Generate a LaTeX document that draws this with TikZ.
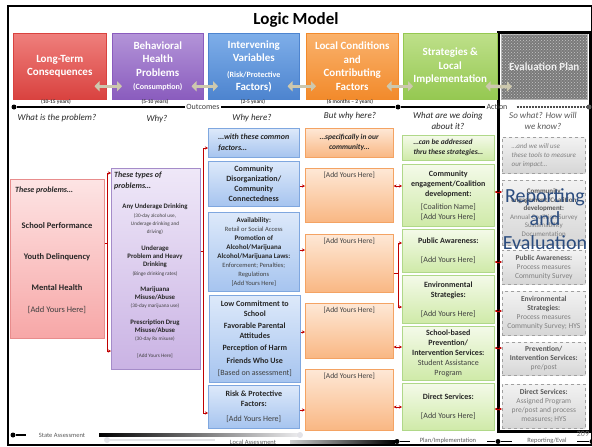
\documentclass[tikz,border=0pt]{standalone}
\usepackage{fontspec}
\setmainfont{Carlito}
\usepackage{tikz}
\usetikzlibrary{arrows.meta, positioning, calc, patterns}

\definecolor{txt}{HTML}{262626}
\definecolor{txtr}{HTML}{404040}
\definecolor{evb}{HTML}{595959}
\definecolor{evr}{HTML}{808080}
\definecolor{dred}{HTML}{C00000}
\definecolor{beige}{HTML}{CDC8AE}
\definecolor{repblue}{HTML}{2B4C7E}
\definecolor{redT}{HTML}{EF7F7C}
\definecolor{redB}{HTML}{D9423F}
\definecolor{purT}{HTML}{B394D8}
\definecolor{purB}{HTML}{8A5CBE}
\definecolor{bluT}{HTML}{7EAEE9}
\definecolor{bluB}{HTML}{4D84CF}
\definecolor{oraT}{HTML}{FAB26C}
\definecolor{oraB}{HTML}{F28A2B}
\definecolor{greT}{HTML}{BEE08A}
\definecolor{greB}{HTML}{95C851}
\definecolor{evhd}{HTML}{7A7A7A}
\definecolor{pkT}{HTML}{FDE4E4}
\definecolor{pkB}{HTML}{F7A7A7}
\definecolor{pkD}{HTML}{E88C8C}
\definecolor{puT}{HTML}{EFE8F8}
\definecolor{puB}{HTML}{CAB3E4}
\definecolor{puD}{HTML}{A58CC9}
\definecolor{blT}{HTML}{DDE9FA}
\definecolor{blB}{HTML}{A6C4EF}
\definecolor{blD}{HTML}{7FA7DF}
\definecolor{orT}{HTML}{FEE8D6}
\definecolor{orB}{HTML}{F9B783}
\definecolor{orD}{HTML}{F4A363}
\definecolor{grT}{HTML}{F4FAE9}
\definecolor{grB}{HTML}{CFEAA8}
\definecolor{grD}{HTML}{B0D889}
\definecolor{evT}{HTML}{F2F2F2}
\definecolor{evB}{HTML}{D6D6D6}
\definecolor{evD}{HTML}{A0A0A0}

\newcommand{\fsz}[2]{\fontsize{#1}{#2}\selectfont}
\newcommand{\rg}[1]{{\mdseries\color{txtr}#1}}
\newcommand{\ev}[1]{{\mdseries\color{evr}#1}}
\newcommand{\pnote}[1]{{\fsz{5.2}{7}\mdseries\color{txtr}#1}}
\newcommand{\bnote}[1]{{\fsz{6.5}{9}\mdseries\color{txtr}#1}}
\newcommand{\ayh}{\rg{[Add Yours Here]}}

\begin{document}
\begin{tikzpicture}[x=1pt, y=-1pt,
  every node/.style={text=txt, inner sep=1pt},
  bx/.style={draw, line width=0.6pt, anchor=north west, align=center, inner sep=2pt},
  hd/.style={bx, line width=0.5pt, text=white, font=\fsz{11}{13.5}\bfseries},
  pkbox/.style={bx, top color=pkT, bottom color=pkB, draw=pkD},
  pubox/.style={bx, top color=puT, bottom color=puB, draw=puD},
  blbox/.style={bx, top color=blT, bottom color=blB, draw=blD},
  orbox/.style={bx, top color=orT, bottom color=orB, draw=orD},
  grbox/.style={bx, top color=grT, bottom color=grB, draw=grD, font=\fsz{8}{10}\bfseries},
  evbox/.style={bx, top color=evT, bottom color=evB, draw=evD, dashed, text=evb, font=\fsz{7.5}{9}\bfseries},
  lead/.style={font=\fsz{8}{10.5}\bfseries\itshape, align=left},
  ort/.style={font=\fsz{7.5}{9}, text=txtr},
  yr/.style={font=\fsz{5.5}{6}\bfseries, text=txtr},
  qs/.style={font=\fsz{9}{11}\itshape, align=center},
  tdot/.style={circle, fill=black, inner sep=0pt, minimum size=5pt},
  ldot/.style={circle, fill=blue!8!gray!20, inner sep=0pt, minimum size=6pt},
  tln/.style={line width=1.5pt},
  tlab/.style={font=\fsz{8}{10}, text=txtr},
  blab/.style={font=\fsz{6.5}{8}, text=evb},
  hda/.style={draw=beige, line width=3.5pt, {Triangle[length=5pt,width=10pt]}-{Triangle[length=5pt,width=10pt]}},
  rl/.style={draw=dred, line width=0.7pt},
  ra/.style={rl, -{Stealth[length=3pt,width=3pt]}},
  rd/.style={rl, {Stealth[length=3pt,width=3pt]}-{Stealth[length=3pt,width=3pt]}},
]
  \useasboundingbox (0,0) rectangle (592,447);
  \node[draw, line width=1.5pt, anchor=north west, minimum width=584, minimum height=439, inner sep=0pt] (frame) at (7,5) {};
  \node[draw, line width=3pt, anchor=north west, minimum width=92, minimum height=399, inner sep=0pt] (evf) at (497,31) {};

  \node[font=\fsz{17}{20}\bfseries, text=black] (title) at (296,20) {Logic Model};

  \node[hd, top color=redT, bottom color=redB, draw=redB, minimum width=93, minimum height=66] (h1) at (13,33) {Long-Term\\Consequences};
  \node[hd, top color=purT, bottom color=purB, draw=purB, minimum width=91, minimum height=66] (h2) at (112,33) {Behavioral\\Health\\Problems\\\fsz{8}{10}(Consumption)};
  \node[hd, top color=bluT, bottom color=bluB, draw=bluB, minimum width=91, minimum height=66] (h3) at (208,33) {Intervening\\Variables\\[2pt]\fsz{8}{10}(Risk/Protective\\Factors)};
  \node[hd, top color=oraT, bottom color=oraB, draw=oraB, minimum width=92, minimum height=66] (h4) at (306,33) {Local Conditions\\and\\Contributing\\Factors};
  \node[hd, top color=greT, bottom color=greB, draw=greB, minimum width=94, minimum height=66] (h5) at (403,33) {Strategies \&\\Local\\Implementation};
  \node[hd, fill=evhd, postaction={pattern=crosshatch dots, pattern color=gray!45}, draw=gray!60, text=white!88!gray, minimum width=86, minimum height=65] (h6) at (501,34) {Evaluation Plan};

  \draw[hda] ([xshift=-12pt, yshift=-20pt]h1.east) -- ([xshift=10pt, yshift=-20pt]h2.west);
  \draw[hda] ([xshift=-12pt, yshift=-20pt]h2.east) -- ([xshift=10pt, yshift=-20pt]h3.west);
  \draw[hda] ([xshift=-12pt, yshift=-20pt]h3.east) -- ([xshift=10pt, yshift=-20pt]h4.west);
  \draw[hda] ([xshift=-12pt, yshift=-20pt]h4.east) -- ([xshift=10pt, yshift=-20pt]h5.west);
  \draw[hda] ([xshift=-12pt, yshift=-20pt]h5.east) -- ([xshift=11pt, yshift=-20pt]h6.west);

  \node[yr] (yr1) at (56,102) {(10-15 years)};
  \node[yr] (yr2) at (155,102) {(5-10 years)};
  \node[yr] (yr3) at (253,102) {(2-5 years)};
  \node[yr] (yr4) at (350,102) {(6 months -- 2 years)};

  \node[tdot] (ta) at (14,107) {};
  \node[tlab] (tout) at (203,107) {Outcomes};
  \node[tdot] (tb) at (398,107) {};
  \node[tlab] (tact) at (497,107) {Action};
  \node[tdot, fill=gray!70!black] (tc) at (589,107) {};
  \draw[tln] (ta) -- (tout);
  \draw[tln] (tout) -- (tb) -- (tact);
  \draw[tln, draw=gray!60!black, dash pattern=on 2pt off 1pt, shorten <=8pt] (tact) -- (tc);

  \node[qs] (q1) at (57,118) {What is the problem?};
  \node[qs] (q2) at (157,119) {Why?};
  \node[qs] (q3) at (252,118) {Why here?};
  \node[qs] (q4) at (350,116) {But why here?};
  \node[qs] (q5) at (448,121) {What are we doing\\about it?};
  \node[qs, text=evb] (q6) at (543,121) {So what? How will\\we know?};

  \node[pkbox, minimum width=94, minimum height=159] (pk) at (10,179) {};
  \node[lead, anchor=west] (pkh) at (14,190) {These problems\ldots};
  \node[font=\fsz{8.5}{10}\bfseries, align=center] (pkt) at (57,268) {School Performance\\[21pt]Youth Delinquency\\[21pt]Mental Health\\[12pt]\ayh};

  \node[pubox, minimum width=89, minimum height=201] (pu) at (111,168) {};
  \node[lead, anchor=north west] (puh) at (113,171) {These types of\\problems\ldots};
  \node[font=\fsz{6.8}{8.3}\bfseries, align=center] (put) at (155,281) {Any Underage Drinking\\\pnote{(30-day alcohol use,}\\\pnote{Underage drinking and}\\\pnote{driving)}\\[8pt]Underage\\Problem and Heavy\\Drinking\\\pnote{(Binge drinking rates)}\\[8pt]Marijuana\\Misuse/Abuse\\\pnote{(30-day marijuana use)}\\[8pt]Prescription Drug\\Misuse/Abuse\\\pnote{(30-day Rx misuse)}\\[8pt]\pnote{[Add Yours Here]}};

  \node[blbox, lead, minimum width=91, minimum height=29] (ba) at (208,128) {\ldots with these common\\factors\ldots};
  \node[blbox, minimum width=91, minimum height=45, font=\fsz{8}{10}\bfseries] (bb) at (208,161) {Community\\Disorganization/\\Community\\Connectedness};
  \node[blbox, minimum width=91, minimum height=79, font=\fsz{7}{9}\bfseries] (bc) at (208,212) {Availability:\\\bnote{Retail or Social Access}\\Promotion of\\Alcohol/Marijuana\\Alcohol/Marijuana Laws:\\\bnote{Enforcement; Penalties;}\\\bnote{Regulations}\\\bnote{[Add Yours Here]}};
  \node[blbox, minimum width=91, minimum height=87, font=\fsz{8}{9.5}\bfseries] (bd) at (209,295) {Low Commitment to\\School\\[3pt]Favorable Parental\\Attitudes\\[3pt]Perception of Harm\\[3pt]Friends Who Use\\[3pt]\rg{[Based on assessment]}};
  \node[blbox, minimum width=91, minimum height=43, font=\fsz{8}{10}\bfseries] (be) at (208,385) {Risk \& Protective\\Factors:\\[5pt]\ayh};

  \node[orbox, minimum width=88, minimum height=29, font=\fsz{7.5}{10}\bfseries\itshape] (oa) at (305,128) {\ldots specifically in our\\community\ldots};
  \node[orbox, minimum width=88, minimum height=54] (ob) at (305,168) {};
  \node[orbox, minimum width=88, minimum height=58] (oc) at (305,234) {};
  \node[orbox, minimum width=88, minimum height=55] (od) at (305,303) {};
  \node[orbox, minimum width=88, minimum height=61] (oe) at (305,369) {};
  \node[ort, below=3pt of ob.north] (obt) {[Add Yours Here]};
  \node[ort, below=3pt of oc.north] (oct) {[Add Yours Here]};
  \node[ort, below=3pt of od.north] (odt) {[Add Yours Here]};
  \node[ort, below=3pt of oe.north] (oet) {[Add Yours Here]};

  \node[grbox, minimum width=92, minimum height=25, font=\fsz{7.5}{10}\bfseries\itshape, align=left] (ga) at (402,135) {\ldots can be addressed\\thru these strategies\ldots};
  \node[grbox, minimum width=92, minimum height=62] (gb) at (402,164) {Community\\engagement/Coalition\\development:\\[3pt]\rg{[Coalition Name]}\\\rg{[Add Yours Here]}};
  \node[grbox, minimum width=92, minimum height=43] (gc) at (402,229) {Public Awareness:\\[9pt]\ayh};
  \node[grbox, minimum width=92, minimum height=48] (gd) at (402,275) {Environmental\\Strategies:\\[9pt]\ayh};
  \node[grbox, minimum width=92, minimum height=54] (ge) at (402,326) {School-based\\Prevention/\\Intervention Services:\\\rg{Student Assistance}\\\rg{Program}};
  \node[grbox, minimum width=92, minimum height=47] (gf) at (402,383) {Direct Services:\\[9pt]\ayh};

  \node[evbox, minimum width=83, minimum height=36, font=\fsz{7}{9}\itshape, text=evr, align=left] (ea) at (502,137) {\ldots and we will use\\these tools to measure\\our impact\ldots};
  \node[evbox, minimum width=83, minimum height=65, font=\fsz{7}{8.5}\bfseries] (eb) at (502,180) {Community\\engagement/Coalition\\development:\\\ev{Annual Coalition Survey}\\\ev{Sustainability}\\\ev{Documentation}};
  \node[evbox, minimum width=83, minimum height=34] (ec) at (502,250) {Public Awareness:\\\ev{Process measures}\\\ev{Community Survey}};
  \node[evbox, minimum width=83, minimum height=44] (ed) at (502,291) {Environmental\\Strategies:\\\ev{Process measures}\\\ev{Community Survey; HYS}};
  \node[evbox, minimum width=83, minimum height=33] (ee) at (502,342) {Prevention/\\Intervention Services:\\\ev{pre/post}};
  \node[evbox, minimum width=83, minimum height=44] (ef) at (502,384) {Direct Services:\\\ev{Assigned Program}\\\ev{pre/post and process}\\\ev{measures; HYS}};

  \coordinate (ka) at (107,243);
  \coordinate (kat) at (107,173);
  \coordinate (kab) at (107,351);
  \draw[rl] (pk.east |- ka) -- (ka);
  \draw[ra] (ka) -- (kat) -- (pu.west |- kat);
  \draw[ra] (ka) -- (kab) -- (pu.west |- kab);

  \coordinate (kb) at (203,251);
  \coordinate (kbt) at (203,148);
  \coordinate (kbb) at (203,413);
  \draw[rl] (pu.east |- kb) -- (kb);
  \draw[ra] (kb) -- (kbt) -- (ba.west |- kbt);
  \draw[ra] (kb) -- (kbb) -- (be.west |- kbb);

  \draw[ra] (bb.east |- 0,186) -- (ob.west |- 0,186);
  \draw[ra] (bc.east |- 0,250) -- (oc.west |- 0,250);
  \draw[ra] (bd.east |- 0,332) -- (od.west |- 0,332);
  \draw[ra] (be.east |- 0,410) -- (oe.west |- 0,410);

  \coordinate (kc) at (398,273);
  \coordinate (kct) at (398,243);
  \coordinate (kcb) at (398,307);
  \draw[rl] (oc.east |- kc) -- (kc);
  \draw[ra] (kc) -- (kct) -- (gc.west |- kct);
  \draw[ra] (kc) -- (kcb) -- (gd.west |- kcb);

  \draw[rd] (ob.east |- 0,186) -- (gb.west |- 0,186);
  \draw[rd] (od.east |- 0,347) -- (ge.west |- 0,347);
  \draw[rd] (oe.east |- 0,407) -- (gf.west |- 0,407);

  \draw[rd] (gb.east |- 0,192) -- (eb.west |- 0,192);
  \draw[rd] (gc.east |- 0,262) -- (ec.west |- 0,262);
  \draw[rd] (gd.east |- 0,311) -- (ed.west |- 0,311);
  \draw[rd] (ge.east |- 0,348) -- (ee.west |- 0,348);
  \draw[rd] (gf.east |- 0,409) -- (ef.west |- 0,409);

  \node[font=\fsz{20}{23.5}, text=repblue, align=center] (rep) at (545,219) {Reporting\\and\\Evaluation};

  \node[tdot] (sa) at (13,435) {};
  \coordinate (sae) at (26,435);
  \draw[tln] (sa) -- (sae);
  \node[blab] (sat) at (62,435) {State Assessment};
  \shade[left color=black, right color=blue!5!gray!15] (99,433.5) rectangle (298,436.5);
  \node[ldot] (lsa) at (300,435) {};
  \node[ldot] (lla) at (107,440) {};
  \coordinate (llae) at (215,440);
  \draw[line width=1.5pt, draw=blue!5!gray!20] (lla) -- (llae);
  \node[blab] (lat) at (253,442) {Local Assessment};
  \shade[left color=gray!40, right color=black] (290,440) rectangle (395,443);
  \node[tdot] (pa) at (397,441.5) {};
  \coordinate (pae) at (410,441.5);
  \draw[tln] (pa) -- (pae);
  \node[blab] (pat) at (448,441) {Plan/Implementation};
  \coordinate (rbl) at (487,441.5);
  \node[tdot] (rb) at (498,441.5) {};
  \coordinate (rbr) at (512,441.5);
  \draw[tln] (rbl) -- (rb) -- (rbr);
  \node[blab] (rbt) at (547,441) {Reporting/Eval};
  \coordinate (rcl) at (577,441.5);
  \node[tdot] (rc) at (592,441.5) {};
  \draw[tln] (rcl) -- (rc);
  \node[font=\fsz{8}{10}, text=evr] (pg) at (583,434) {209};
\end{tikzpicture}
\end{document}
